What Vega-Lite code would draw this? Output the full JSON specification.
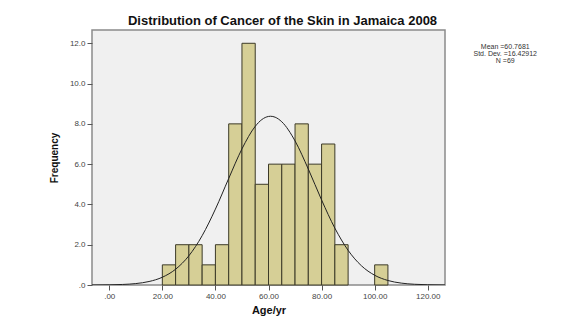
{
  "$schema": "https://vega.github.io/schema/vega-lite/v6.json",
  "autosize": "none",
  "width": 353,
  "height": 255,
  "padding": {"left": 92, "top": 30, "right": 121, "bottom": 42},
  "background": "white",
  "config": {
    "view": {"fill": "#f0f0f0", "stroke": "#8a8a8a", "strokeWidth": 1.5},
    "font": "Liberation Sans"
  },
  "title": {
    "text": "Distribution of Cancer of the Skin in Jamaica 2008",
    "font": "Liberation Sans",
    "fontSize": 13,
    "fontWeight": "bold",
    "color": "#111111",
    "anchor": "middle",
    "dx": 14,
    "offset": 2
  },
  "datasets": {
    "bins": [
      {"bin_start": 20, "bin_end": 25, "count": 1},
      {"bin_start": 25, "bin_end": 30, "count": 2},
      {"bin_start": 30, "bin_end": 35, "count": 2},
      {"bin_start": 35, "bin_end": 40, "count": 1},
      {"bin_start": 40, "bin_end": 45, "count": 2},
      {"bin_start": 45, "bin_end": 50, "count": 8},
      {"bin_start": 50, "bin_end": 55, "count": 12},
      {"bin_start": 55, "bin_end": 60, "count": 5},
      {"bin_start": 60, "bin_end": 65, "count": 6},
      {"bin_start": 65, "bin_end": 70, "count": 6},
      {"bin_start": 70, "bin_end": 75, "count": 8},
      {"bin_start": 75, "bin_end": 80, "count": 6},
      {"bin_start": 80, "bin_end": 85, "count": 7},
      {"bin_start": 85, "bin_end": 90, "count": 2},
      {"bin_start": 100, "bin_end": 105, "count": 1}
    ],
    "curve": [
      {"age": -7, "freq": 0.002},
      {"age": -5, "freq": 0.0028},
      {"age": 0, "freq": 0.009},
      {"age": 5, "freq": 0.0264},
      {"age": 10, "freq": 0.0707},
      {"age": 15, "freq": 0.173},
      {"age": 20, "freq": 0.3855},
      {"age": 25, "freq": 0.7832},
      {"age": 30, "freq": 1.4505},
      {"age": 35, "freq": 2.4487},
      {"age": 40, "freq": 3.768},
      {"age": 45, "freq": 5.286},
      {"age": 50, "freq": 6.758},
      {"age": 55, "freq": 7.877},
      {"age": 57.5, "freq": 8.214},
      {"age": 60, "freq": 8.3685},
      {"age": 60.77, "freq": 8.3776},
      {"age": 62.5, "freq": 8.331},
      {"age": 65, "freq": 8.104},
      {"age": 70, "freq": 7.154},
      {"age": 75, "freq": 5.757},
      {"age": 80, "freq": 4.222},
      {"age": 85, "freq": 2.823},
      {"age": 90, "freq": 1.7205},
      {"age": 95, "freq": 0.956},
      {"age": 100, "freq": 0.484},
      {"age": 105, "freq": 0.2234},
      {"age": 110, "freq": 0.094},
      {"age": 115, "freq": 0.036},
      {"age": 120, "freq": 0.0126},
      {"age": 125, "freq": 0.004},
      {"age": 128, "freq": 0.002}
    ]
  },
  "layer": [
    {
      "data": {"name": "bins"},
      "mark": {"type": "bar", "fill": "#d6cf96", "stroke": "#3c3a28", "strokeWidth": 1},
      "encoding": {
        "x": {
          "field": "bin_start",
          "type": "quantitative",
          "scale": {"domain": [-6.5, 126.5], "nice": false, "zero": false},
          "axis": {
            "values": [0, 20, 40, 60, 80, 100, 120],
            "labelExpr": "datum.value == 0 ? '.00' : format(datum.value, '.2f')",
            "domain": false,
            "grid": false,
            "tickSize": 5,
            "tickColor": "#555555",
            "labelFontSize": 8,
            "labelColor": "#444444",
            "labelPadding": 2,
            "title": "Age/yr",
            "titleFontSize": 11,
            "titleFontWeight": "bold",
            "titleColor": "#111111",
            "titlePadding": 4
          }
        },
        "x2": {"field": "bin_end"},
        "y": {
          "field": "count",
          "type": "quantitative",
          "scale": {"domain": [0, 12.66], "nice": false},
          "axis": {
            "values": [0, 2, 4, 6, 8, 10, 12],
            "labelExpr": "datum.value == 0 ? '.0' : format(datum.value, '.1f')",
            "domain": false,
            "grid": false,
            "tickSize": 5,
            "tickColor": "#555555",
            "labelFontSize": 8,
            "labelColor": "#444444",
            "labelPadding": 2,
            "title": "Frequency",
            "titleFontSize": 10,
            "titleFontWeight": "bold",
            "titleColor": "#111111",
            "titlePadding": 10
          }
        },
        "y2": {"datum": 0}
      }
    },
    {
      "data": {"name": "curve"},
      "mark": {"type": "line", "color": "#222222", "strokeWidth": 1, "interpolate": "monotone", "clip": true},
      "encoding": {
        "x": {"field": "age", "type": "quantitative"},
        "y": {"field": "freq", "type": "quantitative"}
      }
    },
    {
      "data": {"values": [{}]},
      "mark": {"type": "text", "fontSize": 7, "color": "#333333", "align": "center", "baseline": "middle", "lineHeight": 7},
      "encoding": {
        "x": {"datum": 149.2},
        "y": {"datum": 11.83},
        "text": {"value": ["Mean =60.7681", "Std. Dev. =16.42912", "N =69"]}
      }
    }
  ]
}
